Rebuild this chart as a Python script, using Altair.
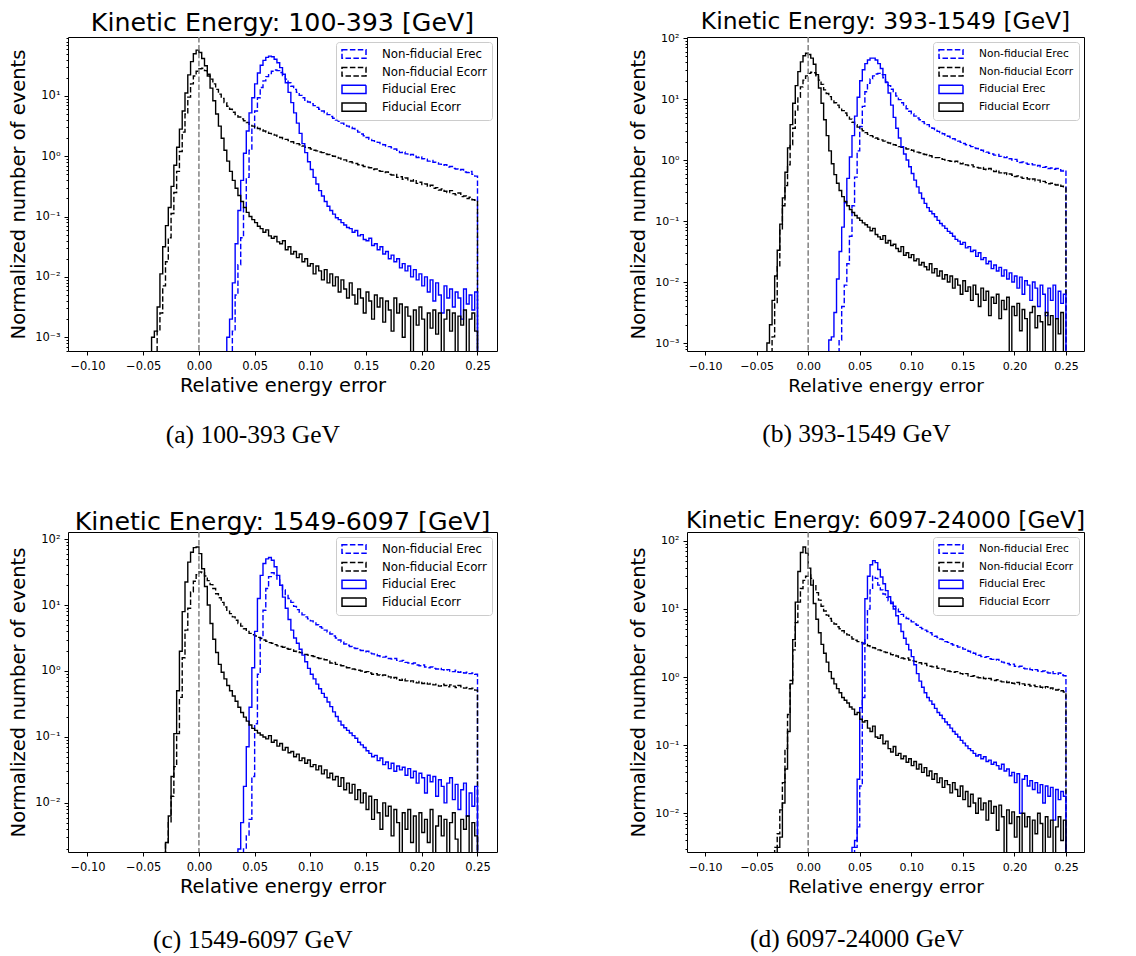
import altair as alt
import pandas as pd

# ---------------------------------------------------------------
# Histogram contents, as log10(normalized
# number of events), one value per 0.0025-wide bin.  Each list ends
# with the last bin before the upper edge 0.25.  -9 marks empty bins.
# ---------------------------------------------------------------
BIN = 0.0025
X_MAX = 0.25

SERIES = ["Non-fiducial Erec", "Non-fiducial Ecorr", "Fiducial Erec", "Fiducial Ecorr"]
COLORS = ["#0000ff", "#000000", "#0000ff", "#000000"]
DASHES = [[5.5, 2.4], [5.5, 2.4], [1, 0], [1, 0]]

TITLES = ["Kinetic Energy: 100-393 [GeV]", "Kinetic Energy: 393-1549 [GeV]",
          "Kinetic Energy: 1549-6097 [GeV]", "Kinetic Energy: 6097-24000 [GeV]"]
CAPTIONS = ["(a) 100-393 GeV", "(b) 393-1549 GeV", "(c) 1549-6097 GeV", "(d) 6097-24000 GeV"]
X_TICKS = [-0.10, -0.05, 0.0, 0.05, 0.10, 0.15, 0.20, 0.25]
X_DOMAIN = [-0.1175, 0.2675]
Y_DOMAINS = [[5.9e-4, 95], [7.4e-4, 104], [1.8e-3, 128], [2.7e-3, 135]]

# ---------------- panel (a) 100-393 GeV ----------------
A_NONFID_EREC = [
    -2.9, -2.3, -1.8, -1.35, -0.85, -0.35, 0.10, 0.45, 0.75, 0.97,
    1.14, 1.25, 1.32, 1.37, 1.41, 1.43, 1.42, 1.39, 1.34, 1.28,
    1.22, 1.16, 1.11, 1.06, 1.01, 0.97, 0.93, 0.90, 0.87, 0.84,
    0.81, 0.78, 0.75, 0.72, 0.69, 0.66, 0.63, 0.60, 0.58, 0.55,
    0.53, 0.50, 0.48, 0.46, 0.43, 0.40, 0.37, 0.34, 0.31, 0.28,
    0.26, 0.25, 0.23, 0.21, 0.19, 0.17, 0.16, 0.14, 0.12, 0.10,
    0.06, 0.07, 0.04, 0.02, 0.03, 0.00, -0.02, -0.01, -0.04, -0.05,
    -0.08, -0.07, -0.10, -0.11, -0.13, -0.15, -0.14, -0.18, -0.17, -0.20,
    -0.21, -0.23, -0.22, -0.26, -0.27, -0.25, -0.30, -0.33]
A_NONFID_ECORR = [
    -2.9, -2.6, -2.15, -1.75, -1.35, -0.95, -0.60, -0.25, 0.08, 0.40,
    0.70, 0.98, 1.20, 1.33, 1.41, 1.45, 1.46, 1.42, 1.36, 1.28,
    1.20, 1.11, 1.03, 0.96, 0.89, 0.83, 0.78, 0.73, 0.69, 0.65,
    0.62, 0.59, 0.56, 0.53, 0.50, 0.48, 0.46, 0.44, 0.42, 0.40,
    0.38, 0.36, 0.35, 0.33, 0.31, 0.29, 0.28, 0.26, 0.24, 0.22,
    0.21, 0.19, 0.17, 0.15, 0.14, 0.12, 0.10, 0.09, 0.07, 0.06,
    0.04, 0.03, 0.01, 0.00, -0.02, -0.03, -0.05, -0.06, -0.08, -0.09,
    -0.11, -0.12, -0.14, -0.15, -0.17, -0.18, -0.19, -0.22, -0.21, -0.24,
    -0.25, -0.27, -0.26, -0.30, -0.31, -0.30, -0.35, -0.34, -0.38, -0.36,
    -0.40, -0.41, -0.39, -0.45, -0.43, -0.47, -0.46, -0.50, -0.48, -0.53,
    -0.52, -0.56, -0.54, -0.58, -0.60, -0.57, -0.62, -0.64, -0.61, -0.67,
    -0.66, -0.70, -0.68, -0.72, -0.73]
A_FID_EREC = [
    -3.0, -2.7, -2.1, -1.45, -0.90, -0.40, 0.05, 0.42, 0.72, 0.97,
    1.20, 1.38, 1.51, 1.59, 1.64, 1.66, 1.65, 1.61, 1.55, 1.47,
    1.36, 1.22, 1.06, 0.89, 0.72, 0.55, 0.38, 0.21, 0.06, -0.09,
    -0.22, -0.35, -0.46, -0.57, -0.66, -0.75, -0.83, -0.90, -0.96, -1.02,
    -1.05, -1.10, -1.14, -1.18, -1.20, -1.26, -1.23, -1.32, -1.30, -1.38,
    -1.40, -1.36, -1.48, -1.45, -1.55, -1.50, -1.62, -1.58, -1.70, -1.64,
    -1.75, -1.70, -1.85, -1.78, -1.90, -1.82, -2.00, -1.88, -2.05, -1.95,
    -2.15, -2.00, -2.25, -2.05, -2.40, -2.10, -2.30, -2.60, -2.15, -2.35,
    -2.20, -2.50, -2.25, -2.35, -2.70, -2.20, -2.45, -2.30, -2.55, -2.25]
A_FID_ECORR = [
    -3.0, -2.9, -2.5, -1.95, -1.5, -1.15, -0.85, -0.5, -0.15, 0.15,
    0.45, 0.75, 1.05, 1.35, 1.57, 1.70, 1.76, 1.72, 1.62, 1.50,
    1.33, 1.13, 0.92, 0.70, 0.50, 0.30, 0.10, -0.08, -0.25, -0.40,
    -0.53, -0.65, -0.75, -0.85, -0.93, -1.00, -1.05, -1.10, -1.16, -1.20,
    -1.26, -1.22, -1.32, -1.36, -1.33, -1.42, -1.45, -1.40, -1.55, -1.50,
    -1.62, -1.58, -1.68, -1.62, -1.75, -1.70, -1.82, -1.78, -1.95, -1.82,
    -1.90, -2.05, -1.88, -2.10, -1.95, -2.15, -2.00, -2.25, -2.05, -2.20,
    -2.35, -2.10, -2.30, -2.45, -2.20, -2.35, -2.60, -2.25, -2.40, -2.70,
    -2.30, -2.50, -2.35, -2.75, -2.40, -2.55, -2.90, -2.35, -2.60, -2.45,
    -3.0, -2.50, -2.65, -9, -2.55, -2.80, -2.50, -2.70, -9, -2.60,
    -2.85, -2.55, -2.95, -2.60, -9, -2.70, -2.55, -2.90, -2.60, -9,
    -2.65, -2.80, -2.55, -9, -2.70, -2.60, -2.90]

# ---------------- panel (b) 393-1549 GeV ----------------
B_NONFID_EREC = [
    -2.95, -2.4, -2.05, -1.7, -1.25, -0.75, -0.28, 0.15, 0.55, 0.88,
    1.12, 1.26, 1.33, 1.38, 1.41, 1.42, 1.40, 1.35, 1.28, 1.22,
    1.16, 1.10, 1.05, 0.99, 0.94, 0.89, 0.84, 0.80, 0.76, 0.72,
    0.69, 0.66, 0.63, 0.60, 0.58, 0.55, 0.52, 0.50, 0.47, 0.45,
    0.43, 0.41, 0.39, 0.37, 0.35, 0.33, 0.31, 0.29, 0.27, 0.25,
    0.24, 0.22, 0.20, 0.19, 0.17, 0.16, 0.14, 0.13, 0.11, 0.10,
    0.08, 0.09, 0.06, 0.05, 0.04, 0.05, 0.02, 0.00, 0.01, -0.02,
    -0.04, -0.03, -0.05, -0.07, -0.06, -0.08, -0.10, -0.09, -0.11, -0.12,
    -0.11, -0.14, -0.13, -0.15, -0.14, -0.16, -0.18, -0.17]
B_NONFID_ECORR = [
    -2.9, -2.35, -1.75, -1.15, -0.75, -0.42, -0.08, 0.25, 0.52, 0.80,
    1.03, 1.20, 1.31, 1.38, 1.42, 1.44, 1.43, 1.38, 1.31, 1.24,
    1.15, 1.09, 1.04, 0.99, 0.94, 0.90, 0.86, 0.81, 0.77, 0.73,
    0.67, 0.62, 0.58, 0.54, 0.51, 0.48, 0.45, 0.42, 0.40, 0.38,
    0.36, 0.34, 0.33, 0.31, 0.29, 0.28, 0.27, 0.25, 0.24, 0.22,
    0.21, 0.20, 0.18, 0.17, 0.16, 0.14, 0.13, 0.12, 0.10, 0.09,
    0.08, 0.07, 0.05, 0.04, 0.04, 0.02, 0.01, 0.00, -0.01, -0.02,
    -0.03, -0.02, -0.05, -0.06, -0.05, -0.08, -0.09, -0.08, -0.11, -0.12,
    -0.13, -0.12, -0.15, -0.16, -0.14, -0.18, -0.19, -0.17, -0.21, -0.22,
    -0.21, -0.24, -0.23, -0.25, -0.27, -0.26, -0.28, -0.30, -0.29, -0.31,
    -0.32, -0.31, -0.34, -0.33, -0.36, -0.35, -0.37, -0.39, -0.38, -0.40,
    -0.41, -0.40, -0.43, -0.44]
B_FID_EREC = [
    -2.95, -2.9, -2.5, -1.95, -1.5, -1.1, -0.7, -0.30, 0.05, 0.40,
    0.72, 1.03, 1.30, 1.48, 1.58, 1.64, 1.67, 1.67, 1.64, 1.58,
    1.50, 1.40, 1.27, 1.10, 0.90, 0.70, 0.52, 0.36, 0.22, 0.10,
    0.00, -0.11, -0.22, -0.33, -0.44, -0.54, -0.63, -0.71, -0.78, -0.84,
    -0.88, -0.93, -0.99, -1.04, -1.08, -1.12, -1.17, -1.20, -1.25, -1.30,
    -1.33, -1.38, -1.35, -1.44, -1.42, -1.50, -1.48, -1.58, -1.52, -1.63,
    -1.60, -1.70, -1.66, -1.78, -1.72, -1.82, -1.76, -1.90, -1.80, -1.95,
    -1.85, -2.00, -1.90, -2.10, -1.92, -2.20, -1.98, -2.05, -2.30, -2.00,
    -2.10, -2.40, -2.05, -2.20, -2.55, -2.10, -2.30, -2.05, -2.60, -2.15,
    -2.35, -2.20]
B_FID_ECORR = [
    -3.0, -2.7, -2.3, -1.9, -1.48, -1.05, -0.62, -0.20, 0.20, 0.58,
    0.93, 1.22, 1.45, 1.61, 1.71, 1.75, 1.73, 1.67, 1.57, 1.40,
    1.18, 0.93, 0.66, 0.40, 0.15, -0.06, -0.24, -0.38, -0.50, -0.60,
    -0.68, -0.75, -0.81, -0.86, -0.91, -0.95, -0.99, -1.03, -1.06, -1.10,
    -1.16, -1.12, -1.22, -1.26, -1.30, -1.24, -1.36, -1.32, -1.40, -1.38,
    -1.45, -1.50, -1.42, -1.56, -1.52, -1.60, -1.55, -1.65, -1.62, -1.72,
    -1.68, -1.75, -1.80, -1.70, -1.85, -1.78, -1.90, -1.82, -1.95, -1.88,
    -2.00, -1.90, -2.10, -1.95, -2.05, -2.20, -1.98, -2.15, -2.08, -2.30,
    -2.05, -2.20, -2.40, -2.10, -2.30, -2.15, -2.55, -2.25, -2.35, -2.20,
    -2.60, -2.30, -2.45, -2.25, -9, -2.40, -2.55, -2.35, -2.80, -2.45,
    -2.60, -9, -2.50, -2.40, -2.75, -2.55, -2.65, -9, -2.50, -2.70,
    -2.55, -9, -2.60, -2.85, -2.50, -9]

# ---------------- panel (c) 1549-6097 GeV ----------------
C_NONFID_EREC = [
    -2.7, -2.5, -2.25, -1.6, -0.80, -0.05, 0.50, 0.92, 1.25, 1.43,
    1.49, 1.45, 1.38, 1.30, 1.23, 1.16, 1.10, 1.04, 0.98, 0.93,
    0.89, 0.85, 0.82, 0.79, 0.76, 0.73, 0.70, 0.67, 0.65, 0.62,
    0.59, 0.56, 0.53, 0.50, 0.47, 0.44, 0.41, 0.39, 0.37, 0.35,
    0.34, 0.32, 0.31, 0.29, 0.30, 0.27, 0.26, 0.25, 0.23, 0.22,
    0.21, 0.22, 0.19, 0.18, 0.19, 0.16, 0.15, 0.16, 0.13, 0.12,
    0.11, 0.12, 0.09, 0.08, 0.09, 0.06, 0.05, 0.06, 0.04, 0.03,
    0.04, 0.02, 0.01, 0.02, 0.00, -0.01, 0.01, -0.02, -0.01, -0.03,
    -0.02, -0.04, -0.03, -0.05]
C_NONFID_ECORR = [
    -2.8, -2.6, -2.3, -1.9, -1.45, -0.95, -0.40, 0.20, 0.62, 0.95,
    1.20, 1.36, 1.46, 1.50, 1.49, 1.44, 1.37, 1.31, 1.25, 1.17,
    1.11, 1.04, 0.97, 0.92, 0.87, 0.82, 0.77, 0.72, 0.68, 0.64,
    0.60, 0.57, 0.55, 0.53, 0.51, 0.49, 0.47, 0.45, 0.43, 0.42,
    0.40, 0.38, 0.37, 0.36, 0.34, 0.33, 0.32, 0.30, 0.29, 0.28,
    0.27, 0.25, 0.24, 0.23, 0.22, 0.20, 0.19, 0.18, 0.17, 0.15,
    0.12, 0.13, 0.10, 0.09, 0.08, 0.06, 0.05, 0.05, 0.03, 0.02,
    0.01, 0.00, -0.02, -0.01, -0.03, -0.05, -0.04, -0.06, -0.07, -0.06,
    -0.08, -0.09, -0.11, -0.10, -0.12, -0.14, -0.12, -0.15, -0.16, -0.15,
    -0.17, -0.18, -0.16, -0.19, -0.18, -0.20, -0.19, -0.21, -0.20, -0.23,
    -0.20, -0.22, -0.24, -0.21, -0.23, -0.25, -0.22, -0.24, -0.26, -0.25,
    -0.27, -0.26, -0.29]
C_FID_EREC = [
    -2.7, -2.3, -1.75, -1.15, -0.55, 0.05, 0.60, 1.10, 1.45, 1.63,
    1.70, 1.72, 1.68, 1.58, 1.45, 1.30, 1.12, 0.95, 0.78, 0.62,
    0.50, 0.42, 0.33, 0.24, 0.14, 0.04, -0.05, -0.12, -0.20, -0.27,
    -0.34, -0.40, -0.47, -0.54, -0.62, -0.69, -0.76, -0.82, -0.86, -0.90,
    -0.94, -0.98, -1.02, -1.08, -1.12, -1.16, -1.21, -1.25, -1.30, -1.28,
    -1.36, -1.32, -1.42, -1.38, -1.48, -1.40, -1.52, -1.44, -1.50, -1.46,
    -1.58, -1.48, -1.62, -1.52, -1.70, -1.55, -1.62, -1.85, -1.58, -1.68,
    -1.60, -1.90, -1.65, -1.75, -2.00, -1.70, -1.62, -1.95, -1.72, -2.10,
    -1.80, -1.70, -2.20, -1.85, -2.05, -1.75]
C_FID_ECORR = [
    -2.9, -2.6, -2.2, -1.6, -0.95, -0.30, 0.30, 0.90, 1.35, 1.65,
    1.80, 1.87, 1.88, 1.78, 1.55, 1.28, 1.00, 0.72, 0.48, 0.28,
    0.10, -0.02, -0.12, -0.22, -0.30, -0.38, -0.46, -0.55, -0.63, -0.70,
    -0.76, -0.82, -0.87, -0.90, -0.94, -0.97, -1.00, -1.03, -0.98, -1.08,
    -1.05, -1.14, -1.10, -1.20, -1.16, -1.24, -1.22, -1.30, -1.26, -1.36,
    -1.32, -1.40, -1.35, -1.45, -1.42, -1.50, -1.44, -1.56, -1.50, -1.62,
    -1.55, -1.65, -1.60, -1.75, -1.62, -1.80, -1.70, -1.85, -1.72, -1.95,
    -1.80, -2.00, -1.85, -2.10, -1.90, -2.25, -1.95, -2.15, -2.40, -2.00,
    -2.20, -2.05, -2.50, -2.10, -2.30, -9, -2.15, -2.40, -2.10, -2.60,
    -2.20, -9, -2.15, -2.45, -2.25, -2.60, -2.10, -9, -2.35, -2.20,
    -2.50, -2.25, -9, -2.30, -2.15, -2.55, -9, -2.25, -2.40, -2.20,
    -9, -2.30, -2.50]

# ---------------- panel (d) 6097-24000 GeV ----------------
D_NONFID_EREC = [
    -2.5, -2.2, -1.6, -0.30, 0.55, 1.00, 1.28, 1.48, 1.45, 1.35,
    1.28, 1.22, 1.17, 1.12, 1.08, 1.04, 1.00, 0.96, 0.92, 0.88,
    0.86, 0.83, 0.81, 0.78, 0.76, 0.73, 0.71, 0.69, 0.67, 0.65,
    0.62, 0.60, 0.58, 0.56, 0.55, 0.52, 0.51, 0.49, 0.47, 0.46,
    0.44, 0.43, 0.41, 0.39, 0.38, 0.36, 0.35, 0.33, 0.32, 0.30,
    0.29, 0.30, 0.27, 0.26, 0.25, 0.26, 0.23, 0.22, 0.21, 0.20,
    0.18, 0.19, 0.16, 0.15, 0.16, 0.13, 0.12, 0.13, 0.11, 0.10,
    0.11, 0.09, 0.08, 0.09, 0.07, 0.06, 0.08, 0.05, 0.04, 0.06,
    0.03, 0.02]
D_NONFID_ECORR = [
    -2.5, -2.3, -1.95, -1.55, -1.05, -0.55, -0.05, 0.40, 0.80, 1.10,
    1.30, 1.42, 1.48, 1.50, 1.45, 1.36, 1.24, 1.13, 1.04, 0.97,
    0.91, 0.86, 0.82, 0.78, 0.74, 0.71, 0.68, 0.65, 0.62, 0.59,
    0.56, 0.54, 0.52, 0.51, 0.49, 0.48, 0.46, 0.45, 0.43, 0.42,
    0.40, 0.39, 0.37, 0.36, 0.35, 0.33, 0.32, 0.31, 0.29, 0.28,
    0.27, 0.28, 0.25, 0.24, 0.23, 0.22, 0.21, 0.19, 0.20, 0.17,
    0.16, 0.15, 0.16, 0.13, 0.12, 0.12, 0.10, 0.09, 0.08, 0.07,
    0.08, 0.06, 0.05, 0.04, 0.05, 0.02, 0.01, 0.02, 0.00, -0.01,
    0.00, -0.02, -0.03, -0.02, -0.04, -0.05, -0.04, -0.06, -0.07, -0.06,
    -0.08, -0.07, -0.09, -0.10, -0.08, -0.11, -0.10, -0.12, -0.11, -0.13,
    -0.12, -0.14, -0.13, -0.15, -0.16, -0.14, -0.17, -0.16, -0.18, -0.19,
    -0.18, -0.20, -0.22]
D_FID_EREC = [
    -2.5, -2.4, -1.5, -0.45, 0.50, 1.15, 1.48, 1.65, 1.71, 1.68,
    1.58, 1.47, 1.37, 1.27, 1.18, 1.10, 1.00, 0.90, 0.78, 0.67,
    0.57, 0.48, 0.40, 0.30, 0.18, 0.05, -0.06, -0.15, -0.23, -0.30,
    -0.35, -0.40, -0.46, -0.52, -0.56, -0.61, -0.66, -0.70, -0.75, -0.80,
    -0.84, -0.88, -0.93, -0.97, -1.01, -1.05, -1.08, -1.12, -1.16, -1.14,
    -1.20, -1.17, -1.24, -1.22, -1.28, -1.25, -1.30, -1.35, -1.28, -1.38,
    -1.35, -1.45, -1.40, -1.55, -1.42, -2.0, -1.50, -1.45, -1.60, -1.52,
    -1.65, -1.55, -1.70, -1.58, -1.85, -1.60, -1.75, -1.62, -2.1, -1.65,
    -1.80, -1.68, -1.75]
D_FID_ECORR = [
    -2.5, -2.35, -1.85, -1.35, -0.80, -0.10, 0.55, 1.10, 1.55, 1.83,
    1.91, 1.82, 1.60, 1.35, 1.08, 0.85, 0.65, 0.48, 0.35, 0.22,
    0.08, -0.02, -0.10, -0.17, -0.23, -0.30, -0.34, -0.38, -0.44, -0.47,
    -0.55, -0.52, -0.62, -0.66, -0.64, -0.75, -0.80, -0.72, -0.88, -0.90,
    -0.85, -0.98, -0.94, -1.05, -1.10, -1.02, -1.15, -1.12, -1.20, -1.16,
    -1.25, -1.20, -1.30, -1.24, -1.35, -1.28, -1.40, -1.33, -1.45, -1.38,
    -1.50, -1.42, -1.55, -1.48, -1.62, -1.52, -1.58, -1.70, -1.55, -1.65,
    -1.75, -1.60, -1.80, -1.68, -1.90, -1.72, -1.85, -2.00, -1.78, -1.95,
    -1.85, -2.10, -1.82, -2.00, -1.90, -2.25, -1.88, -2.05, -9, -1.95,
    -2.15, -1.98, -2.35, -2.05, -9, -2.00, -2.20, -2.05, -9, -2.10,
    -2.30, -2.00, -2.15, -9, -2.05, -2.35, -2.10, -9, -2.20, -2.05,
    -2.40, -2.10]

PANELS = [
    [A_NONFID_EREC, A_NONFID_ECORR, A_FID_EREC, A_FID_ECORR],
    [B_NONFID_EREC, B_NONFID_ECORR, B_FID_EREC, B_FID_ECORR],
    [C_NONFID_EREC, C_NONFID_ECORR, C_FID_EREC, C_FID_ECORR],
    [D_NONFID_EREC, D_NONFID_ECORR, D_FID_EREC, D_FID_ECORR],
]
EMPTY = -9

# layout / style per panel (the right-hand panels are printed narrower)
WIDTHS = [429, 397, 429, 397]
HEIGHTS = [314, 314, 320, 320]
TITLE_SIZE = [25.3, 23.4, 25.3, 23.4]
TITLE_EXTENT = 28            # title block height + offset, identical for all
TICK_SIZE_FONT = [11.5, 11.0, 11.5, 11.0]
XTITLE_SIZE = [19.5, 18.5, 19.5, 18.5]
LEGEND_SIZE = [11.8, 10.6, 11.8, 10.6]
CAPTION_OFFSET = [27, 27, 31, 31]

SUP = "['⁻⁴','⁻³','⁻²','⁻¹','⁰','¹','²','³']"
LOG10 = "(log(datum.value)/LN10)"
MAJOR_TEST = f"abs({LOG10} - round({LOG10})) < 0.001"
Y_LABEL_EXPR = f"{MAJOR_TEST} ? '10' + {SUP}[round({LOG10}) + 4] : ''"


def hist_frame(lists):
    rows = []
    i = 0
    for name, logs in zip(SERIES, lists):
        n = len(logs)
        x0 = X_MAX - BIN * n
        pts = [(x0, EMPTY)]
        pts += [(x0 + k * BIN, v) for k, v in enumerate(logs)]
        pts += [(X_MAX, logs[-1]), (X_MAX, EMPTY)]
        for x, v in pts:
            rows.append({"x": round(x, 6), "y": 10.0 ** v, "series": name, "i": i})
            i += 1
    return pd.DataFrame(rows)


def y_ticks(domain):
    lo, hi = domain
    vals = []
    for e in range(-4, 3):
        for m in range(1, 10):
            v = float(f"{m}e{e}")
            if lo <= v <= hi:
                vals.append(v)
    return vals


def independent(c):
    return c.resolve_scale(color="independent", strokeDash="independent",
                           x="independent", y="independent").resolve_legend(
        color="independent", strokeDash="independent")


def panel(idx):
    df = hist_frame(PANELS[idx])
    x_enc = alt.X("x:Q", scale=alt.Scale(domain=X_DOMAIN, nice=False, zero=False),
                  axis=alt.Axis(values=X_TICKS, format=".2f", title="Relative energy error",
                                labelPadding=5, titlePadding=5,
                                labelFontSize=TICK_SIZE_FONT[idx], titleFontSize=XTITLE_SIZE[idx]))
    y_enc = alt.Y("y:Q", scale=alt.Scale(type="log", domain=Y_DOMAINS[idx], nice=False),
                  axis=alt.Axis(values=y_ticks(Y_DOMAINS[idx]), labelExpr=Y_LABEL_EXPR,
                                labelOverlap=False, labelFontSize=TICK_SIZE_FONT[idx],
                                tickSize={"condition": {"test": MAJOR_TEST, "value": 4}, "value": 2},
                                title="Normalized number of events"))
    leg = alt.Legend(labelFontSize=LEGEND_SIZE[idx])
    lines = alt.Chart(df).mark_line(interpolate="step-after", clip=True, strokeWidth=1.4).encode(
        x=x_enc,
        y=y_enc,
        color=alt.Color("series:N", scale=alt.Scale(domain=SERIES, range=COLORS),
                        title=None, legend=leg),
        strokeDash=alt.StrokeDash("series:N", scale=alt.Scale(domain=SERIES, range=DASHES),
                                  title=None, legend=leg),
        order=alt.Order("i:Q"),
    )
    vline = alt.Chart(pd.DataFrame({"x": [0.0]})).mark_rule(
        color="#808080", strokeDash=[5.5, 2.4], strokeWidth=1.5).encode(x="x:Q")
    t_off = TITLE_EXTENT - 1.278 * TITLE_SIZE[idx]
    layer = alt.layer(lines, vline).properties(
        width=WIDTHS[idx], height=HEIGHTS[idx],
        title=alt.Title(TITLES[idx], anchor="middle", frame="group", offset=t_off,
                        fontSize=TITLE_SIZE[idx]))
    wrapped = alt.vconcat(layer, title=alt.Title(
        CAPTIONS[idx], orient="bottom", anchor="middle", font="Liberation Serif",
        fontSize=25.5, offset=CAPTION_OFFSET[idx]))
    return independent(wrapped)


top = independent(alt.hconcat(panel(0), panel(1), spacing=130))
bottom = independent(alt.hconcat(panel(2), panel(3), spacing=130))
chart = independent(alt.vconcat(top, bottom, spacing=60)).properties(
    padding={"left": 0, "top": 1, "right": 0, "bottom": 0})

chart = chart.configure(font="DejaVu Sans").configure_view(
    stroke="black", strokeWidth=1
).configure_axis(
    domain=False, grid=False, tickColor="black", tickWidth=1, tickSize=4,
    labelFont="DejaVu Sans", labelFontSize=11.5, labelColor="black", labelPadding=4,
    titleFont="DejaVu Sans", titleFontSize=19.5, titleFontWeight="normal", titleColor="black",
    titlePadding=6,
).configure_title(
    font="DejaVu Sans", fontSize=25.3, fontWeight="normal", color="black"
).configure_legend(
    orient="top-right", offset=5, padding=5, fillColor="white", strokeColor="#cccccc",
    cornerRadius=3, labelFont="DejaVu Sans", labelFontSize=11.8, labelColor="black",
    symbolType="M-2,-0.7H2V0.7H-2Z", symbolSize=144, symbolStrokeWidth=1.5,
    symbolOffset=6, rowPadding=1.7, labelOffset=21,
)

chart.save("out.html", embed_options={"renderer": "svg", "actions": False})
